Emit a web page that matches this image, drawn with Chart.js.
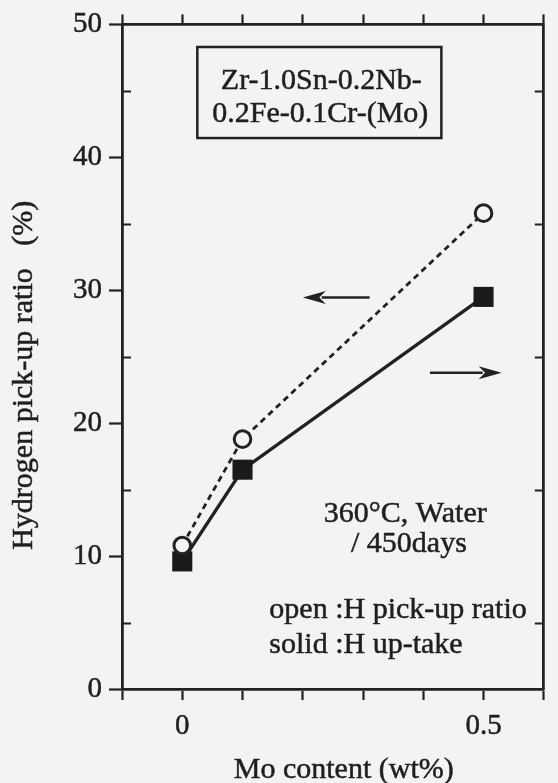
<!DOCTYPE html>
<html>
<head>
<meta charset="utf-8">
<script src="https://cdn.jsdelivr.net/npm/chart.js@4/dist/chart.umd.min.js"></script>
<style>
  html, body { margin: 0; padding: 0; background: #f3f3f5; }
  #wrap { width: 558px; height: 783px; }
</style>
</head>
<body>
<div id="wrap"><canvas id="c" width="558" height="783"></canvas></div>
<script>
// Mo content of the alloys (wt%)
const moContent = [0, 0.1, 0.5];
// open circles: hydrogen pick-up ratio (%)
const pickupRatio = [10.8, 18.8, 35.8];
// solid squares: hydrogen up-take
const hUptake = [9.6, 16.5, 29.5];
// labelled ticks
const xTickLabels = ['0', '0.5'];
const yTickLabels = ['0', '10', '20', '30', '40', '50'];
const yMinorTicks = [5, 15, 25, 35, 45];

const INK = '#222222';
const TEXT = '#1f1f1f';
const BG = '#f3f3f5';
const SERIF = '"Liberation Serif", "Times New Roman", serif';

const toPoints = (xs, ys) => xs.map((x, i) => ({ x, y: ys[i] }));

// annotation layout, in axis units
const notes = {
  alloyBox: { x0: 0.025, x1: 0.43, yTop: 48.3, yBottom: 41.45,
              lines: ['Zr-1.0Sn-0.2Nb-', '0.2Fe-0.1Cr-(Mo)'] },
  leftArrow: { head: 0.2, tail: 0.311, y: 29.45 },
  rightArrow: { tail: 0.411, head: 0.53, y: 23.8 },
  texts: [
    { x: 0.235, y: 12.6, text: '360°C, Water' },
    { x: 0.28, y: 10.3, text: '/ 450days' },
    { x: 0.1445, y: 5.35, text: 'open :H pick-up ratio' },
    { x: 0.1445, y: 2.7, text: 'solid :H up-take' }
  ]
};
const axisTitles = {
  x: { text: 'Mo content (wt%)', value: 0.268 },
  y: { text: 'Hydrogen pick-up ratio   (%)', value: 23.6 }
};

function inkText(ctx, text, x, y) {
  ctx.fillText(text, x, y);
  ctx.strokeText(text, x, y);
}

function drawArrow(ctx, x0, x1, y, dir) {
  // dir = -1: head at x0 pointing left; dir = 1: head at x1 pointing right
  const L = 23, W = 13;
  const tip = dir < 0 ? x0 : x1;
  const back = tip - dir * L;
  ctx.save();
  ctx.strokeStyle = INK;
  ctx.fillStyle = INK;
  ctx.lineWidth = 2.5;
  ctx.beginPath();
  if (dir < 0) { ctx.moveTo(back - 4, y); ctx.lineTo(x1, y); }
  else { ctx.moveTo(x0, y); ctx.lineTo(back + 4, y); }
  ctx.stroke();
  ctx.beginPath();
  ctx.moveTo(tip, y);
  ctx.lineTo(back, y - W / 2);
  ctx.lineTo(tip - dir * L * 0.72, y);
  ctx.lineTo(back, y + W / 2);
  ctx.closePath();
  ctx.fill();
  ctx.restore();
}

const framePlugin = {
  id: 'frameMarks',
  afterDraw(chart) {
    const { ctx, chartArea: a, scales: { x, y } } = chart;
    ctx.save();
    // inward minor ticks on both vertical axes
    ctx.strokeStyle = INK;
    ctx.lineWidth = 2;
    yMinorTicks.forEach(v => {
      const py = Math.round(y.getPixelForValue(v)) + 0.5;
      ctx.beginPath();
      ctx.moveTo(a.left, py); ctx.lineTo(a.left + 9, py);
      ctx.moveTo(a.right, py); ctx.lineTo(a.right - 9, py);
      ctx.stroke();
    });

    // alloy composition box
    const b = notes.alloyBox;
    const bx0 = x.getPixelForValue(b.x0), bx1 = x.getPixelForValue(b.x1);
    const by0 = y.getPixelForValue(b.yTop), by1 = y.getPixelForValue(b.yBottom);
    ctx.lineWidth = 2.5;
    ctx.strokeRect(bx0, by0, bx1 - bx0, by1 - by0);

    ctx.fillStyle = TEXT;
    ctx.strokeStyle = TEXT;
    ctx.lineWidth = 0.5;
    ctx.font = '30px ' + SERIF;
    ctx.textAlign = 'center';
    ctx.textBaseline = 'alphabetic';
    const cx = (bx0 + bx1) / 2;
    inkText(ctx, b.lines[0], cx + 2, by0 + 42);
    inkText(ctx, b.lines[1], cx + 1, by0 + 75);

    // condition and legend notes
    ctx.textAlign = 'left';
    notes.texts.forEach(t => {
      inkText(ctx, t.text, x.getPixelForValue(t.x), y.getPixelForValue(t.y));
    });

    // axis titles
    ctx.textAlign = 'center';
    ctx.textBaseline = 'alphabetic';
    inkText(ctx, axisTitles.x.text, x.getPixelForValue(axisTitles.x.value), 778);
    ctx.save();
    ctx.translate(32, y.getPixelForValue(axisTitles.y.value));
    ctx.rotate(-Math.PI / 2);
    inkText(ctx, axisTitles.y.text, 0, 0);
    ctx.restore();

    // direction arrows
    const la = notes.leftArrow, ra = notes.rightArrow;
    drawArrow(ctx, x.getPixelForValue(la.head), x.getPixelForValue(la.tail), y.getPixelForValue(la.y), -1);
    drawArrow(ctx, x.getPixelForValue(ra.tail), x.getPixelForValue(ra.head), y.getPixelForValue(ra.y), 1);
    ctx.restore();
  }
};

const near = (v, t) => Math.abs(v - t) < 1e-6;
const tickFont = { family: SERIF, size: 29 };

new Chart(document.getElementById('c'), {
  type: 'line',
  data: {
    datasets: [
      {
        label: 'H pick-up ratio',
        data: toPoints(moContent, pickupRatio),
        order: 0,
        borderColor: INK,
        borderWidth: 2.8,
        borderDash: [6, 4.5],
        pointStyle: 'circle',
        pointRadius: 8.3,
        pointBorderWidth: 3,
        pointBorderColor: INK,
        pointBackgroundColor: BG,
        tension: 0,
        clip: false
      },
      {
        label: 'H up-take',
        data: toPoints(moContent, hUptake),
        order: 1,
        borderColor: INK,
        borderWidth: 3.4,
        pointStyle: 'rect',
        pointRadius: 14.2,
        pointBorderWidth: 0,
        pointBackgroundColor: '#1a1a1a',
        tension: 0,
        clip: false
      }
    ]
  },
  options: {
    responsive: false,
    animation: false,
    events: [],
    layout: { padding: 0 },
    plugins: { legend: { display: false }, tooltip: { enabled: false } },
    scales: {
      x: {
        type: 'linear', position: 'bottom', min: -0.1, max: 0.6,
        afterFit: s => { s.height = 94; },
        ticks: {
          stepSize: 0.1, autoSkip: false, maxRotation: 0, padding: 9,
          color: TEXT, font: tickFont, textStrokeColor: TEXT, textStrokeWidth: 0.5,
          callback: v => near(v, 0) ? xTickLabels[0] : (near(v, 0.5) ? xTickLabels[1] : '')
        },
        grid: { drawOnChartArea: false, drawTicks: true, tickLength: 11, tickWidth: 2.2, tickColor: INK },
        border: { color: INK, width: 2.8 }
      },
      xTop: {
        type: 'linear', position: 'top', min: -0.1, max: 0.6,
        afterFit: s => { s.height = 24; },
        ticks: { display: false, stepSize: 0.1, autoSkip: false },
        grid: { drawOnChartArea: false, drawTicks: true, tickLength: 10, tickWidth: 2.2, tickColor: INK },
        border: { color: INK, width: 2.8 }
      },
      y: {
        type: 'linear', position: 'left', min: 0, max: 50,
        afterFit: s => { s.width = 122; },
        ticks: {
          stepSize: 5, autoSkip: false, padding: 7,
          color: TEXT, font: tickFont, textStrokeColor: TEXT, textStrokeWidth: 0.5,
          callback: v => (v % 10 === 0 ? yTickLabels[v / 10] : '')
        },
        grid: {
          drawOnChartArea: false, drawTicks: true, tickLength: 13, tickWidth: 2.2,
          tickColor: c => (c.tick && c.tick.value % 10 === 0 ? INK : 'rgba(0,0,0,0)')
        },
        border: { color: INK, width: 2.8 }
      },
      yRight: {
        type: 'linear', position: 'right', min: 0, max: 50,
        afterFit: s => { s.width = 2.5; },
        ticks: { display: false },
        grid: { drawOnChartArea: false, drawTicks: false },
        border: { color: INK, width: 2.8 }
      }
    }
  },
  plugins: [framePlugin]
});
</script>
</body>
</html>
